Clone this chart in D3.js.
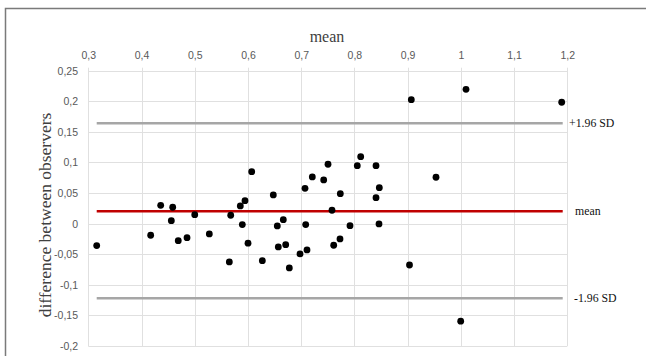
<!DOCTYPE html>
<html><head><meta charset="utf-8">
<script src="https://cdn.jsdelivr.net/npm/d3@7"></script>
<style>body{margin:0;background:#fff}svg{display:block}</style>
</head><body>
<script>
const meanVals = [0.3158,0.4172,0.436,0.4586,0.456,0.469,0.4855,0.5,0.5274,0.565,0.5676,0.5856,0.5944,0.5894,0.6001,0.607,0.627,0.6476,0.6551,0.6664,0.657,0.6709,0.6777,0.6978,0.7072,0.7085,0.7109,0.7209,0.7423,0.7504,0.7579,0.7611,0.7735,0.7729,0.7917,0.8054,0.8118,0.8406,0.8468,0.8406,0.8462,0.9035,0.9069,1.0097,1.1895,0.9533,0.9997];
const diffVals = [-0.0359,-0.019,0.030,0.0268,0.0049,-0.0278,-0.0229,0.0147,-0.0168,-0.0626,0.0137,0.0289,0.0376,-0.0016,-0.032,0.085,-0.0605,0.0469,-0.0038,0.0065,-0.038,-0.0343,-0.0724,-0.0495,0.0578,-0.0016,-0.043,0.0763,0.0714,0.0971,0.0219,-0.0353,0.049,-0.025,-0.0033,0.0948,0.1095,0.0948,0.0588,0.0425,-0.0005,-0.0676,0.2026,0.2196,0.1984,0.0758,-0.1595];
const refNames = ["+1.96 SD","mean","-1.96 SD"];
const refVals = [0.164,0.0203,-0.1219];
const xTicks = [0.3,0.4,0.5,0.6,0.7,0.8,0.9,1,1.1,1.2];
const yTicks = [0.25,0.2,0.15,0.1,0.05,0,-0.05,-0.1,-0.15,-0.2];

const W=646,H=356;
const svg=d3.select("body").append("svg").attr("width",W).attr("height",H);
svg.append("rect").attr("x",5.5).attr("y",8.5).attr("width",W).attr("height",H)
  .attr("fill","none").attr("stroke","#7a7a7a").attr("stroke-width",1.5);

const x=d3.scaleLinear().domain([0.3,1.2]).range([88.3,567.3]);
const y=d3.scaleLinear().domain([-0.2,0.25]).range([346,70.7]);
const fmt=d=>String(d).replace(".",",");

svg.append("g").selectAll("line").data(yTicks).join("line")
  .attr("x1",x(0.3)).attr("x2",x(1.2)).attr("y1",d=>Math.round(y(d))+0.5).attr("y2",d=>Math.round(y(d))+0.5)
  .attr("stroke","#e0e0e0").attr("stroke-width",1);
svg.append("g").selectAll("line").data(xTicks).join("line")
  .attr("x1",d=>Math.round(x(d))+0.5).attr("x2",d=>Math.round(x(d))+0.5).attr("y1",y(0.25)-3).attr("y2",y(-0.2))
  .attr("stroke","#e0e0e0").attr("stroke-width",1);

const xAxis=d3.axisTop(x).tickValues(xTicks).tickFormat(fmt).tickSize(0).tickPadding(0);
const gx=svg.append("g").attr("transform","translate(0,59)").call(xAxis);
gx.select(".domain").remove();
gx.selectAll("text").attr("font-family","Liberation Sans, Arial, sans-serif").attr("font-size",10.5).attr("fill","#595959").attr("dy",0);

const yAxis=d3.axisLeft(y).tickValues(yTicks).tickFormat(fmt).tickSize(0).tickPadding(0);
const gy=svg.append("g").attr("transform","translate(78,0)").call(yAxis);
gy.select(".domain").remove();
gy.selectAll("text").attr("font-family","Liberation Sans, Arial, sans-serif").attr("font-size",10.5).attr("fill","#595959");

const ext=d3.extent(meanVals);
const colors=["#a6a6a6","#c00000","#a6a6a6"];
svg.append("g").selectAll("line").data(refVals).join("line")
  .attr("x1",x(ext[0])).attr("x2",x(ext[1])+1).attr("y1",d=>y(d)).attr("y2",d=>y(d))
  .attr("stroke",(d,i)=>colors[i]).attr("stroke-width",2.5);

const lblX=[569,575,574];
svg.append("g").selectAll("text").data(refNames).join("text")
  .attr("x",(d,i)=>lblX[i]).attr("y",(d,i)=>y(refVals[i])+4)
  .attr("font-family","Liberation Serif, Times New Roman, serif").attr("font-size",11.8).attr("fill","#111")
  .text(d=>d);

svg.append("g").selectAll("circle").data(meanVals).join("circle")
  .attr("cx",d=>x(d)).attr("cy",(d,i)=>y(diffVals[i])).attr("r",3.4).attr("fill","#000");

svg.append("text").attr("x",327).attr("y",42).attr("text-anchor","middle")
  .attr("font-family","Liberation Serif, Times New Roman, serif").attr("font-size",16).attr("fill","#404040").text("mean");
svg.append("text").attr("transform","translate(51,215) rotate(-90)").attr("text-anchor","middle")
  .attr("font-family","Liberation Serif, Times New Roman, serif").attr("font-size",17.5).attr("fill","#404040").text("difference between observers");
</script>
</body></html>
